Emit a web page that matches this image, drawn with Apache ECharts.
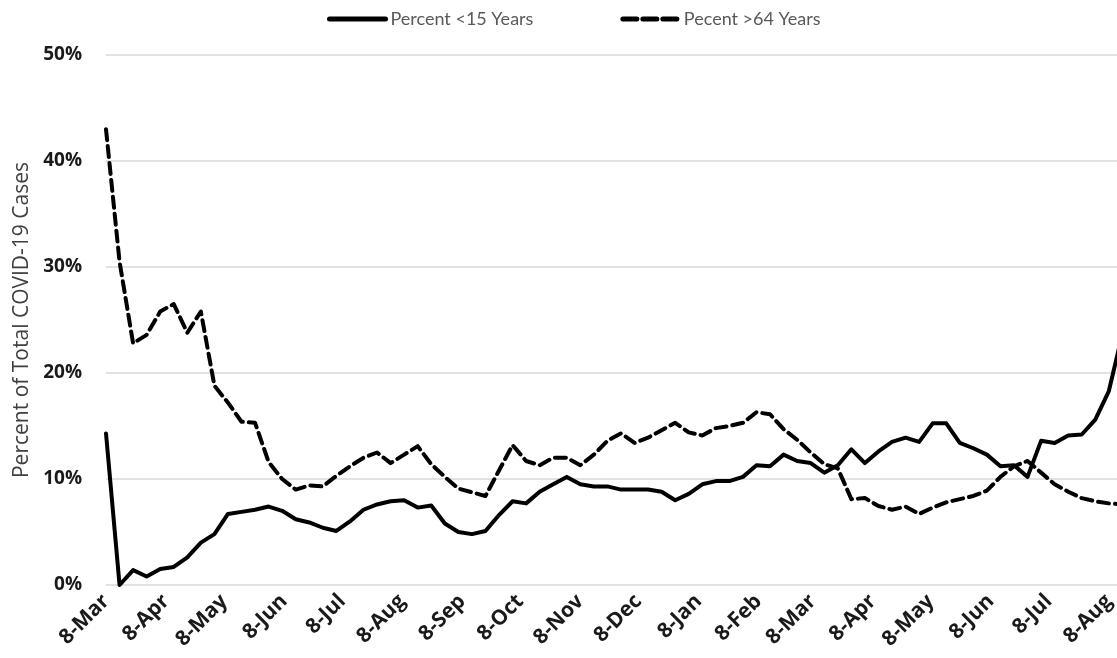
<!DOCTYPE html>
<html>
<head>
<meta charset="utf-8">
<script src="https://cdn.jsdelivr.net/npm/echarts@6/dist/echarts.min.js"></script>
<style>
html,body{margin:0;padding:0;background:#fff;overflow:hidden;}
#chart{width:1123px;height:658px;}
</style>
</head>
<body>
<div id="chart"></div>
<script>
// Weekly points starting 8-Mar-2020 (76 weeks, last one 15-Aug-2021)
const startDate = '2020-03-08';
const endDate = '2021-08-15';
const seriesNames = ['Percent <15 Years', 'Pecent >64 Years'];
const monthNames = ['Jan','Feb','Mar','Apr','May','Jun','Jul','Aug','Sep','Oct','Nov','Dec'];
const under15 = [
  14.3, 0.0, 1.4, 0.8, 1.5, 1.7, 2.6, 4.0, 4.8, 6.7,
  6.9, 7.1, 7.4, 7.0, 6.2, 5.9, 5.4, 5.1, 6.0, 7.1,
  7.6, 7.9, 8.0, 7.3, 7.5, 5.8, 5.0, 4.8, 5.1, 6.6,
  7.9, 7.7, 8.8, 9.5, 10.2, 9.5, 9.3, 9.3, 9.0, 9.0,
  9.0, 8.8, 8.0, 8.6, 9.5, 9.8, 9.8, 10.2, 11.3, 11.2,
  12.3, 11.7, 11.5, 10.6, 11.3, 12.8, 11.5, 12.6, 13.5, 13.9,
  13.5, 15.25, 15.25, 13.4, 12.9, 12.3, 11.2, 11.3, 10.2, 13.6,
  13.4, 14.1, 14.2, 15.6, 18.3, 23.7
];
const over64 = [
  43.0, 30.5, 22.8, 23.6, 25.8, 26.5, 23.8, 25.8, 18.8, 17.2,
  15.4, 15.3, 11.6, 10.0, 9.0, 9.4, 9.3, 10.3, 11.2, 12.0,
  12.5, 11.5, 12.3, 13.1, 11.4, 10.2, 9.1, 8.75, 8.4, 10.8,
  13.2, 11.7, 11.3, 12.0, 12.0, 11.3, 12.3, 13.6, 14.3, 13.4,
  13.9, 14.6, 15.3, 14.4, 14.1, 14.8, 15.0, 15.3, 16.3, 16.1,
  14.7, 13.7, 12.5, 11.4, 11.0, 8.1, 8.2, 7.45, 7.1, 7.4,
  6.7, 7.3, 7.8, 8.1, 8.4, 8.9, 10.2, 11.2, 11.7, 10.6,
  9.5, 8.8, 8.2, 7.9, 7.7, 7.6
];
const yTicks = [0, 10, 20, 30, 40, 50];

function fmt(d){
  const m = d.getUTCMonth()+1, day = d.getUTCDate();
  return d.getUTCFullYear()+'-'+(m<10?'0':'')+m+'-'+(day<10?'0':'')+day;
}
// daily categories
const days = [];
for (let t = Date.parse(startDate+'T00:00:00Z'); t <= Date.parse(endDate+'T00:00:00Z'); t += 86400000) {
  days.push(fmt(new Date(t)));
}
// weekly dates
const weeks = [];
for (let i = 0; i < under15.length; i++) {
  weeks.push(fmt(new Date(Date.parse(startDate+'T00:00:00Z') + i*7*86400000)));
}
const pairs = vals => vals.map((v,i)=>[weeks[i], v]);

const chart = echarts.init(document.getElementById('chart'), null, {renderer:'canvas'});
chart.setOption({
  animation:false,
  backgroundColor:'#fff',
  legend:{
    top:5, left:322, itemGap:87, itemWidth:56, itemHeight:14,
    textStyle:{color:'#595959', fontSize:18, fontFamily:'Lato'},
    itemStyle:{opacity:0},
    data:[
      {name:seriesNames[0], lineStyle:{width:5, type:'solid', cap:'round'}},
      {name:seriesNames[1], lineStyle:{width:5, type:[14,6], cap:'round'}}
    ]
  },
  grid:{left:106, right:0.6, top:55, bottom:73, containLabel:false},
  xAxis:{
    type:'category', data:days, boundaryGap:false,
    axisLine:{show:false}, axisTick:{show:false}, splitLine:{show:false},
    axisLabel:{
      interval:(idx,val)=>val.slice(8)==='08',
      rotate:45, margin:13,
      formatter:(val)=>{const p=val.split('-');return parseInt(p[2],10)+'-'+monthNames[parseInt(p[1],10)-1];},
      color:'#1a1a1a', fontWeight:'bold', fontSize:21, fontFamily:'Open Sans'
    }
  },
  yAxis:{
    type:'value', min:yTicks[0], max:yTicks[yTicks.length-1], interval:10,
    name:'Percent of Total COVID-19 Cases', nameLocation:'middle', nameGap:73, nameRotate:90,
    nameTextStyle:{color:'#404040', fontSize:21, fontFamily:'Open Sans'},
    axisLine:{show:false}, axisTick:{show:false},
    axisLabel:{formatter:'{value}%', color:'#1a1a1a', fontWeight:'bold', fontSize:19, fontFamily:'Open Sans', margin:24},
    splitLine:{lineStyle:{color:'#d9d9d9', width:1.5}}
  },
  series:[
    {name:seriesNames[0], type:'line', symbol:'none', data:pairs(under15),
     lineStyle:{color:'#000', width:4, type:'solid', cap:'round', join:'round'}, itemStyle:{color:'#000'}},
    {name:seriesNames[1], type:'line', symbol:'none', data:pairs(over64),
     lineStyle:{color:'#000', width:4, type:[11,6], cap:'round', join:'round'}, itemStyle:{color:'#000'}}
  ]
});
</script>
</body>
</html>
